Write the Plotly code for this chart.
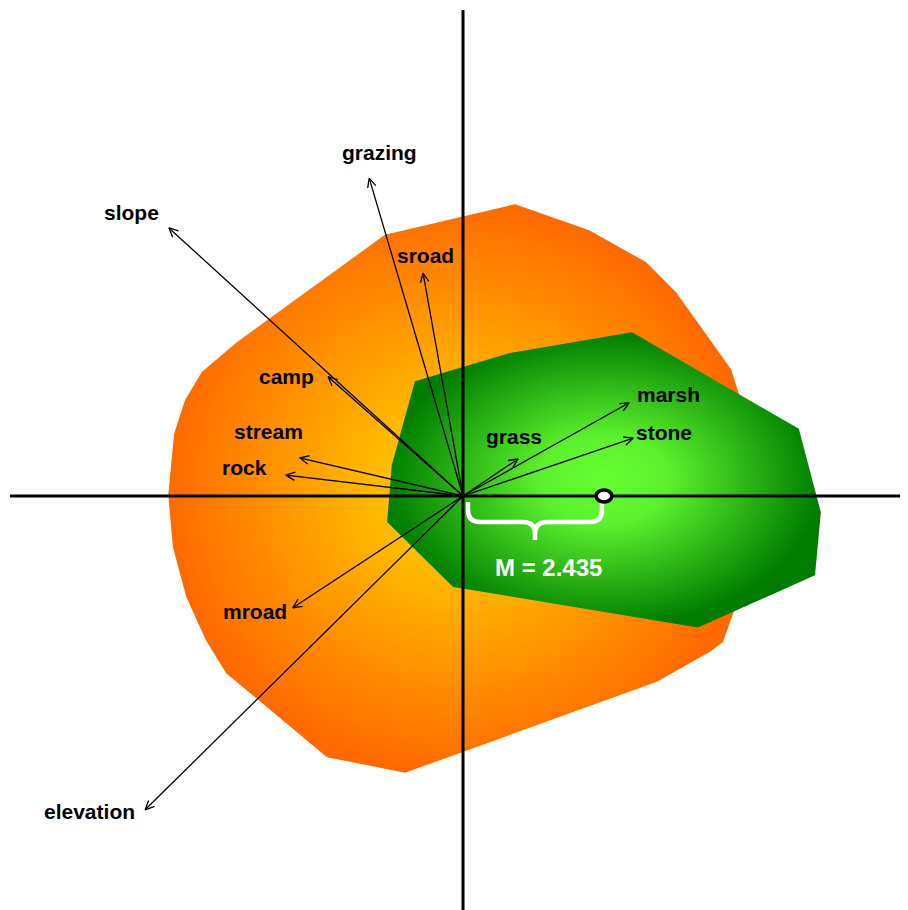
import math
import plotly.graph_objects as go

# ---------------- data ----------------
variables = ["grazing", "slope", "sroad", "camp", "stream", "rock",
             "mroad", "elevation", "grass", "marsh", "stone"]
vec_x = [-1.62, -5.08, -0.69, -2.33, -2.82, -3.06, -2.94, -5.49, 0.95, 2.87, 2.94]
vec_y = [5.49, 4.63, 3.85, 2.06, 0.66, 0.36, -1.93, -5.42, 0.64, 1.61, 1.00]

orange_x = [0.90, 2.18, 3.16, 3.68, 4.63, 4.80, 4.96, 4.96, 4.70, 4.49, 4.28, 3.35,
            -1.00, -2.35, -4.09, -4.44, -4.78, -5.01, -5.09, -4.99, -4.80, -4.51,
            -3.90, -1.35]
orange_y = [5.04, 4.59, 4.04, 3.52, 2.19, 1.66, 0.62, -0.76, -1.93, -2.52, -2.68, -3.21,
            -4.78, -4.51, -3.06, -2.49, -1.74, -0.88, 0.02, 1.07, 1.66, 2.14,
            2.66, 4.51]

green_x = [2.92, 5.80, 6.18, 6.08, 4.06, -0.17, -1.31, -1.23, -0.83, 0.81]
green_y = [2.83, 1.16, -0.28, -1.37, -2.27, -1.57, -0.45, 0.53, 1.98, 2.47]

M_value = 2.435

# ---------------- styles ----------------
label_shift = {  # pixel offsets of labels from arrow tips
    "grazing": (10, 26), "slope": (-37, 15), "sroad": (2, 18), "camp": (-42, 0),
    "stream": (-31, 26), "rock": (-41, 8), "mroad": (-38, -4), "elevation": (-56, -2),
    "grass": (-4, 22), "marsh": (39, 8), "stone": (31, 6),
}
FONT = "Liberation Sans, Arial, sans-serif"
PX = 57.9  # pixels per data unit
OX, OY = 455, 488  # origin position inside the figure (page adds 8px offset)
XR = [-OX / PX, (908 - OX) / PX]
YR = [-(910 - OY) / PX, OY / PX]

fig = go.Figure()

fig.add_trace(go.Scatter(
    x=orange_x + [orange_x[0]], y=orange_y + [orange_y[0]],
    mode="lines", fill="toself", line=dict(width=0, color="rgba(0,0,0,0)"),
    fillgradient=dict(type="radial",
                      colorscale=[[0, "#FFC800"], [0.3, "#FFBA00"], [1, "#FF6A00"]]),
    hoverinfo="skip", showlegend=False))

fig.add_trace(go.Scatter(
    x=green_x + [green_x[0]], y=green_y + [green_y[0]],
    mode="lines", fill="toself", line=dict(width=0, color="rgba(0,0,0,0)"),
    fillgradient=dict(type="radial",
                      colorscale=[[0, "#66FF33"], [0.3, "#5CF02E"], [1, "#007D00"]]),
    hoverinfo="skip", showlegend=False))

# axis cross
fig.add_shape(type="line", x0=XR[0] + 2 / PX, x1=XR[1], y0=0, y1=0,
              line=dict(color="black", width=3), layer="above")
fig.add_shape(type="line", x0=0, x1=0, y0=YR[0], y1=YR[1] - 2 / PX,
              line=dict(color="black", width=3), layer="above")

# arrows
head_len = 10 / PX
phi = math.radians(25)
ax, ay = [], []
for vx, vy in zip(vec_x, vec_y):
    th = math.atan2(vy, vx)
    ax += [0, vx, None]
    ay += [0, vy, None]
    ax += [vx - head_len * math.cos(th - phi), vx, vx - head_len * math.cos(th + phi), None]
    ay += [vy - head_len * math.sin(th - phi), vy, vy - head_len * math.sin(th + phi), None]
fig.add_trace(go.Scatter(x=ax, y=ay, mode="lines", line=dict(color="black", width=1.3),
                         hoverinfo="skip", showlegend=False))

# labels
for name, vx, vy in zip(variables, vec_x, vec_y):
    sx, sy = label_shift[name]
    fig.add_annotation(x=vx, y=vy, text=name, showarrow=False, xshift=sx, yshift=sy,
                       font=dict(family=FONT, size=21, color="black", weight="bold"))

# brace from 0 to M
x0 = 5 / PX
x1 = M_value - 2 / PX
xm = (x0 + x1) / 2
ytop, yh, ytip, r = -6 / PX, -26 / PX, -44 / PX, 12 / PX
path = (f"M {x0},{ytop} L {x0},{yh + r} Q {x0},{yh} {x0 + r},{yh} L {xm - r},{yh} "
        f"Q {xm},{yh} {xm},{yh - r} L {xm},{ytip} "
        f"M {x1},{ytop} L {x1},{yh + r} Q {x1},{yh} {x1 - r},{yh} L {xm + r},{yh} "
        f"Q {xm},{yh} {xm},{yh - r}")
fig.add_shape(type="path", path=path, line=dict(color="white", width=4.5), layer="above")

# centroid marker
fig.add_shape(type="circle", xref="x", yref="y", xsizemode="pixel", ysizemode="pixel",
              xanchor=M_value, yanchor=0, x0=-8, x1=8, y0=-6, y1=6,
              fillcolor="white", line=dict(color="black", width=3.5), layer="above")

fig.add_annotation(x=M_value / 2, y=0, text=f"M = {M_value}", showarrow=False,
                   xshift=15, yshift=-71,
                   font=dict(family=FONT, size=24, color="white", weight="bold"))

fig.update_layout(
    width=908, height=910, margin=dict(l=0, r=0, t=0, b=0),
    paper_bgcolor="white", plot_bgcolor="white", showlegend=False,
    xaxis=dict(range=XR, visible=False, fixedrange=True),
    yaxis=dict(range=YR, visible=False, fixedrange=True),
)

fig.write_html("out.html")
